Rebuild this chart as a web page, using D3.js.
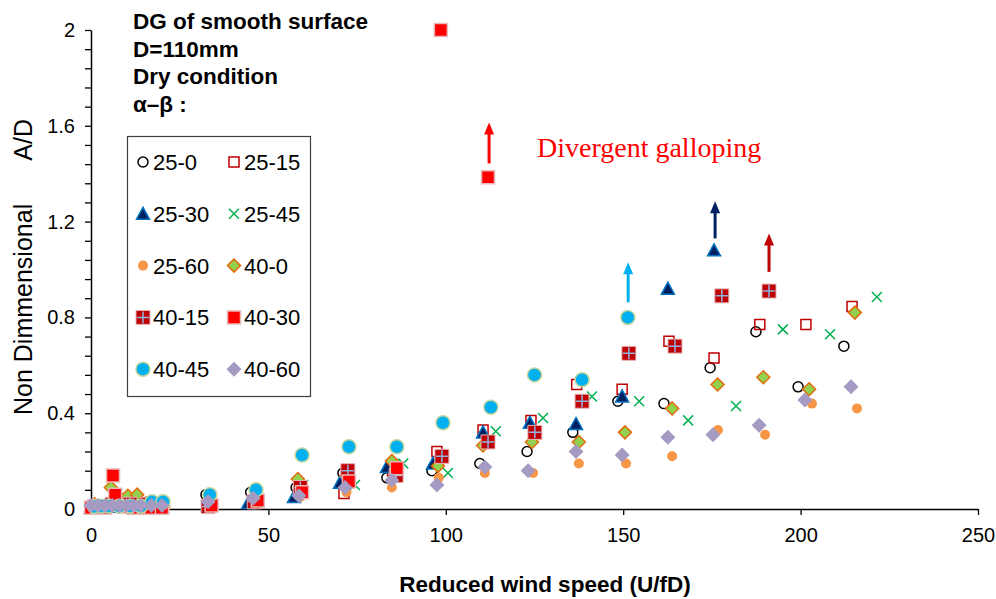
<!DOCTYPE html>
<html>
<head>
<meta charset="utf-8">
<script src="https://cdn.jsdelivr.net/npm/d3@7"></script>
<style>
body { margin: 0; background: #fff; }
svg { display: block; font-family: Arial, "Liberation Sans", sans-serif; }
</style>
</head>
<body>
<div id="chart"></div>
<script>
// ---- data ----
var xTicks = [0, 50, 100, 150, 200, 250];
var yLabelStep = 0.4;
var yMinorStep = 0.08;
var titleLines = ["DG of smooth surface", "D=110mm", "Dry condition", "α–β :"];
var seriesNames = ["25-0", "25-15", "25-30", "25-45", "25-60", "40-0", "40-15", "40-30", "40-45", "40-60"];

var s25_0  = [[0,0.01],[3,0.01],[6,0.02],[9,0.02],[12,0.02],[16,0.03],[20,0.03],[32.4,0.06],[45,0.07],[57.8,0.09],[71,0.15],[83.4,0.13],[96.1,0.16],[109.6,0.19],[122.9,0.24],[135.8,0.32],[148.5,0.45],[161.5,0.44],[174.5,0.59],[187.4,0.74],[199.3,0.51],[212.2,0.68]];
var s25_15 = [[0,0.01],[5,0.01],[10,0.02],[15,0.02],[20,0.02],[33,0.02],[46,0.03],[58.5,0.07],[71.3,0.065],[85,0.16],[97.5,0.24],[110.5,0.33],[124,0.37],[136.9,0.52],[149.7,0.5],[162.9,0.7],[175.6,0.63],[188.5,0.77],[201.5,0.77],[214.5,0.845]];
var s25_30 = [[0,0.005],[5,0.01],[10,0.01],[15,0.01],[20,0.01],[33,0.015],[44.3,0.025],[57.2,0.05],[70.2,0.11],[83.4,0.175],[96.4,0.19],[110.5,0.32],[123.7,0.36],[136.7,0.355],[149.7,0.47],[162.6,0.92],[175.6,1.08]];
var s25_45 = [[2,0.01],[8,0.02],[14,0.02],[19,0.03],[34,0.02],[47,0.04],[59.8,0.1],[74.4,0.1],[88,0.19],[100.6,0.15],[114.1,0.325],[127.4,0.38],[141.2,0.47],[154.5,0.45],[168.3,0.37],[181.8,0.43],[195,0.75],[208.3,0.73],[221.5,0.885]];
var s25_60 = [[1,0.01],[6,0.01],[11,0.01],[16,0.01],[21,0.01],[33,0.01],[46,0.02],[59,0.05],[72,0.07],[84.8,0.09],[98,0.13],[111,0.15],[124.6,0.15],[137.5,0.19],[150.8,0.19],[163.8,0.22],[176.7,0.33],[190,0.31],[203.2,0.44],[215.9,0.42]];
var s40_0  = [[1,0.02],[5.6,0.09],[8,0.05],[10.4,0.055],[13,0.06],[17,0.03],[20,0.03],[33,0.03],[46,0.05],[58.3,0.125],[72,0.14],[84.8,0.2],[97.8,0.18],[110.5,0.265],[124.3,0.28],[137.5,0.28],[150.5,0.32],[163.8,0.42],[176.6,0.52],[189.5,0.55],[202.4,0.5],[215.3,0.82]];
var s40_15 = [[1,0.01],[6,0.02],[11,0.02],[16,0.02],[20,0.02],[33,0.01],[46,0.03],[59,0.09],[72.4,0.16],[86,0.14],[98.9,0.22],[111.9,0.28],[125.1,0.32],[138.4,0.45],[151.6,0.65],[164.6,0.68],[177.8,0.89],[191.1,0.91]];
var s40_30 = [[0,0.005],[2,0.005],[4,0.005],[6.2,0.14],[6.8,0.06],[9,0.01],[12,0.005],[15,0.005],[17,0.005],[20,0.005],[34,0.015],[47,0.035],[59.5,0.07],[72.7,0.115],[86.2,0.17],[98.6,2.0],[111.9,1.385]];
var s40_45 = [[1,0.01],[3,0.012],[5,0.012],[8,0.012],[11,0.012],[14,0.012],[17.2,0.03],[20.3,0.03],[33.5,0.06],[46.5,0.08],[59.5,0.225],[72.7,0.26],[86.2,0.26],[99.2,0.36],[112.7,0.425],[125,0.56],[138.4,0.54],[151.3,0.8]];
var s40_60 = [[0,0.015],[2,0.015],[4,0.015],[6,0.015],[8,0.015],[10,0.015],[12,0.015],[14,0.015],[17,0.015],[20,0.015],[33,0.03],[45.7,0.045],[58.6,0.055],[71.6,0.09],[84.8,0.12],[97.5,0.1],[111,0.175],[123.2,0.16],[136.7,0.24],[149.7,0.225],[162.6,0.3],[175.3,0.31],[188.3,0.35],[201.2,0.455],[214.2,0.51]];

// arrows: x, from y, to y
var arrowX    = [112.2, 151.4, 175.9, 191.1];
var arrowFrom = [1.443, 0.863, 1.13, 0.99];
var arrowTo   = [1.614, 1.03, 1.285, 1.15];
var arrowColor = ["#ff0000", "#00b0f0", "#002060", "#c00000"];
var noteText = "Divergent galloping";
var notePos = [125.7, 1.468];

// ---- styles ----
var styles = [
  {type: "circle",   size: 10, fill: "none",    stroke: "#000000", sw: 1.5},
  {type: "square",   size: 10, fill: "none",    stroke: "#c00000", sw: 1.5},
  {type: "triangle", size: 13, fill: "#002060", stroke: "#0070c0", sw: 1.5},
  {type: "x",        size: 10, fill: "none",    stroke: "#00b050", sw: 1.5},
  {type: "circle",   size: 10, fill: "#f79646", stroke: "none",    sw: 0},
  {type: "diamond",  size: 13, fill: "#92d050", stroke: "#e46c0a", sw: 1.5},
  {type: "square",   size: 14, fill: "#c00000", stroke: "#e6b9b8", sw: 1, cross: "#8eb4e3"},
  {type: "square",   size: 13, fill: "#ff0000", stroke: "#e6b9b8", sw: 1.5},
  {type: "circle",   size: 14, fill: "#00b0f0", stroke: "#c3d69b", sw: 1.5},
  {type: "diamond",  size: 15, fill: "#a59bc2", stroke: "none",    sw: 0}
];
var seriesData = [s25_0, s25_15, s25_30, s25_45, s25_60, s40_0, s40_15, s40_30, s40_45, s40_60];

var W = 996, H = 599;
var margin = {left: 91, right: 18, top: 30, bottom: 90};
var width = W - margin.left - margin.right,
    height = H - margin.top - margin.bottom;

var svg = d3.select("#chart").append("svg")
    .attr("width", W)
    .attr("height", H);
var g = svg.append("g").attr("transform", "translate(" + margin.left + "," + margin.top + ")");

var x = d3.scaleLinear().domain([0, 250]).range([0, width]);
var y = d3.scaleLinear().domain([0, 2]).range([height, 0]);

function markerPath(type, s) {
    var h = s / 2;
    if (type === "circle") return "M" + h + ",0A" + h + "," + h + " 0 1,1 " + (-h) + ",0A" + h + "," + h + " 0 1,1 " + h + ",0Z";
    if (type === "square") return "M" + (-h) + "," + (-h) + "H" + h + "V" + h + "H" + (-h) + "Z";
    if (type === "triangle") return "M0," + (-h) + "L" + h + "," + (h * 0.85) + "L" + (-h) + "," + (h * 0.85) + "Z";
    if (type === "diamond") return "M0," + (-h) + "L" + h + ",0L0," + h + "L" + (-h) + ",0Z";
    if (type === "x") return "M" + (-h) + "," + (-h) + "L" + h + "," + h + "M" + (-h) + "," + h + "L" + h + "," + (-h);
}

function drawMarker(sel, st) {
    sel.append("path")
        .attr("d", markerPath(st.type, st.size))
        .attr("fill", st.fill)
        .attr("stroke", st.stroke)
        .attr("stroke-width", st.sw);
    if (st.cross) {
        var h = st.size / 2 - 1;
        sel.append("path")
            .attr("d", "M" + (-h) + ",0H" + h + "M0," + (-h) + "V" + h)
            .attr("fill", "none")
            .attr("stroke", st.cross)
            .attr("stroke-width", 1.5);
    }
}

// y axis: minor ticks every 0.08, labels every 0.4
var yVals = d3.range(0, 2 + 1e-9, yMinorStep);
g.append("g")
    .call(d3.axisLeft(y).tickValues(yVals).tickSize(6).tickSizeOuter(0).tickPadding(10)
        .tickFormat(function(d) {
            var k = d / yLabelStep;
            return Math.abs(k - Math.round(k)) < 1e-6 ? d3.format("~g")(+d.toFixed(2)) : "";
        }))
    .call(function(a) {
        a.selectAll("text").attr("font-size", 20).attr("font-family", "Arial, 'Liberation Sans', sans-serif").attr("fill", "#000");
        a.selectAll("line").attr("stroke", "#000").attr("stroke-width", 1.3);
        a.select(".domain").attr("stroke", "#000").attr("stroke-width", 1.5);
    });

// x axis
g.append("g")
    .attr("transform", "translate(0," + height + ")")
    .call(d3.axisBottom(x).tickValues(xTicks).tickSize(6).tickSizeOuter(0).tickPadding(13))
    .call(function(a) {
        a.selectAll("text").attr("font-size", 20).attr("font-family", "Arial, 'Liberation Sans', sans-serif").attr("fill", "#000");
        a.selectAll("line").attr("stroke", "#000").attr("stroke-width", 1.3);
        a.select(".domain").attr("stroke", "#000").attr("stroke-width", 1.5);
    });

// axis titles
svg.append("text")
    .attr("x", 545).attr("y", 592)
    .attr("text-anchor", "middle")
    .attr("font-size", 22.5).attr("font-weight", "bold")
    .text("Reduced wind speed (U/fD)");

// y title in two parts (wide gap in the original)
svg.append("text")
    .attr("transform", "translate(32,415) rotate(-90)")
    .attr("text-anchor", "start")
    .attr("font-size", 25)
    .text("Non Dimmensional");
svg.append("text")
    .attr("transform", "translate(32,119) rotate(-90)")
    .attr("text-anchor", "end")
    .attr("font-size", 25)
    .text("A/D");

// title block
svg.append("g").selectAll("text")
    .data(titleLines)
    .enter().append("text")
    .attr("x", 133)
    .attr("y", function(d, i) { return 29 + i * 27.7; })
    .attr("font-size", 22.5).attr("font-weight", "bold")
    .text(function(d) { return d; });

// points
seriesData.forEach(function(data, i) {
    var st = styles[i];
    g.append("g").selectAll("g")
        .data(data)
        .enter().append("g")
        .attr("transform", function(d) { return "translate(" + x(d[0]) + "," + y(d[1]) + ")"; })
        .each(function() { drawMarker(d3.select(this), st); });
});

// arrows
arrowX.forEach(function(ax, i) {
    var px = x(ax), y0 = y(arrowFrom[i]), y1 = y(arrowTo[i]);
    g.append("line")
        .attr("x1", px).attr("x2", px)
        .attr("y1", y0).attr("y2", y1 + 10)
        .attr("stroke", arrowColor[i]).attr("stroke-width", 3);
    g.append("path")
        .attr("d", "M" + px + "," + y1 + "L" + (px + 5) + "," + (y1 + 12) + "L" + (px - 5) + "," + (y1 + 12) + "Z")
        .attr("fill", arrowColor[i]);
});

g.append("text")
    .attr("x", x(notePos[0])).attr("y", y(notePos[1]))
    .attr("font-family", "'Times New Roman', 'Liberation Serif', serif")
    .attr("font-size", 28)
    .attr("fill", "#ff0000")
    .text(noteText);

// legend
var legend = svg.append("g");
legend.append("rect")
    .attr("x", 127.5).attr("y", 136.5)
    .attr("width", 183).attr("height", 260)
    .attr("fill", "#fff").attr("stroke", "#404040").attr("stroke-width", 1.2);

seriesNames.forEach(function(name, i) {
    var col = i % 2, row = Math.floor(i / 2);
    var mx = col === 0 ? 143 : 234;
    var my = 162 + row * 51.8;
    var item = legend.append("g").attr("transform", "translate(" + mx + "," + my + ")");
    drawMarker(item, styles[i]);
    legend.append("text")
        .attr("x", mx + 10).attr("y", my + 8)
        .attr("font-size", 22)
        .text(name);
});
</script>
</body>
</html>
